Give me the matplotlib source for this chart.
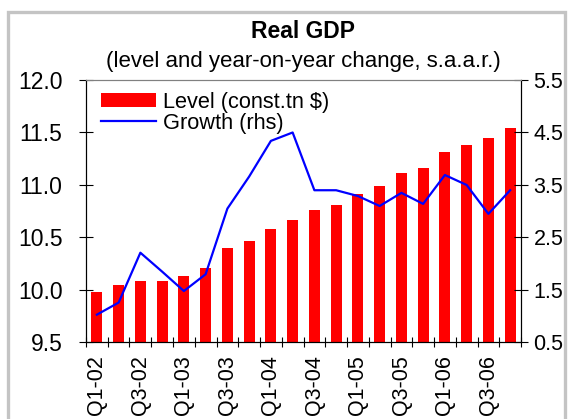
import matplotlib
matplotlib.use("Agg")
import matplotlib.pyplot as plt
import matplotlib.patches as mpatches
import numpy as np

plt.rcParams['font.family'] = ['Liberation Sans', 'DejaVu Sans']

quarters = ['Q1-02', 'Q2-02', 'Q3-02', 'Q4-02',
            'Q1-03', 'Q2-03', 'Q3-03', 'Q4-03',
            'Q1-04', 'Q2-04', 'Q3-04', 'Q4-04',
            'Q1-05', 'Q2-05', 'Q3-05', 'Q4-05',
            'Q1-06', 'Q2-06', 'Q3-06', 'Q4-06']
level = [9.98, 10.05, 10.09, 10.09, 10.13, 10.21, 10.40, 10.47, 10.58, 10.67,
         10.76, 10.81, 10.91, 10.99, 11.11, 11.16, 11.31, 11.38, 11.45, 11.54]
growth = [1.03, 1.26, 2.21, 1.85, 1.48, 1.80, 3.05, 3.66, 4.34, 4.50,
          3.40, 3.40, 3.29, 3.10, 3.35, 3.14, 3.69, 3.50, 2.95, 3.40]

x = np.arange(len(quarters))

fig = plt.figure(figsize=(5.68, 4.19), dpi=100)
ax = fig.add_axes([0.1514, 0.1826, 0.7659, 0.6265])
ax2 = ax.twinx()

bars = ax.bar(x, level, width=0.5, color='#ff0000', bottom=0)
line, = ax2.plot(x, growth, color='#0000ff', lw=1.6)

ax.set_xlim(-0.5, len(quarters) - 0.5)
ax.set_ylim(9.5, 12.0)
ax.set_yticks(np.arange(9.5, 12.01, 0.5))
ax.set_yticklabels(['%.1f' % v for v in np.arange(9.5, 12.01, 0.5)])
ax2.set_ylim(0.5, 5.5)
ax2.set_yticks(np.arange(0.5, 5.51, 1.0))
ax2.set_yticklabels(['%.1f' % v for v in np.arange(0.5, 5.51, 1.0)])

# category boundary ticks, labels on every second quarter
ax.set_xticks(np.arange(-0.5, len(quarters), 1.0))
ax.set_xticklabels([])
ax.set_xticks(x[::2], minor=True)
ax.set_xticklabels(quarters[::2], minor=True, rotation=90)
ax.tick_params(axis='x', which='major', direction='inout', length=7, width=0.8)
ax.tick_params(axis='x', which='minor', length=0, pad=9, labelsize=15.5)

ax.tick_params(axis='y', direction='inout', length=10, width=0.8, labelsize=16.5, pad=12)
ax2.tick_params(axis='y', direction='inout', length=10, width=0.8, labelsize=15.5, pad=4)

for a in (ax, ax2):
    a.spines['top'].set_color('#808080')
    a.spines['top'].set_linewidth(0.8)
    for s in ('left', 'right', 'bottom'):
        a.spines[s].set_linewidth(0.8)

fig.text(0.5343, 1 - 32 / 419, 'Real GDP', ha='center', va='center',
         fontsize=16.5, fontweight='bold')
fig.text(0.5343, 1 - 62 / 419, '(level and year-on-year change, s.a.a.r.)',
         ha='center', va='center', fontsize=16)

ax.legend([bars, line], ['Level (const.tn $)', 'Growth (rhs)'],
          loc='upper left', bbox_to_anchor=(0.005, 1.005), frameon=False,
          fontsize=15.7, handlelength=2.5, handleheight=0.6, handletextpad=0.35,
          labelspacing=0.0, borderaxespad=0.2)

border = mpatches.Rectangle((7.5 / 568, -0.1), (564.5 - 7.5) / 568, 1.1 - 12.5 / 419,
                            transform=fig.transFigure, fill=False,
                            edgecolor='#c4c4c4', lw=2.4, zorder=-1)
fig.patches.append(border)

plt.savefig('out.png', dpi=100)
